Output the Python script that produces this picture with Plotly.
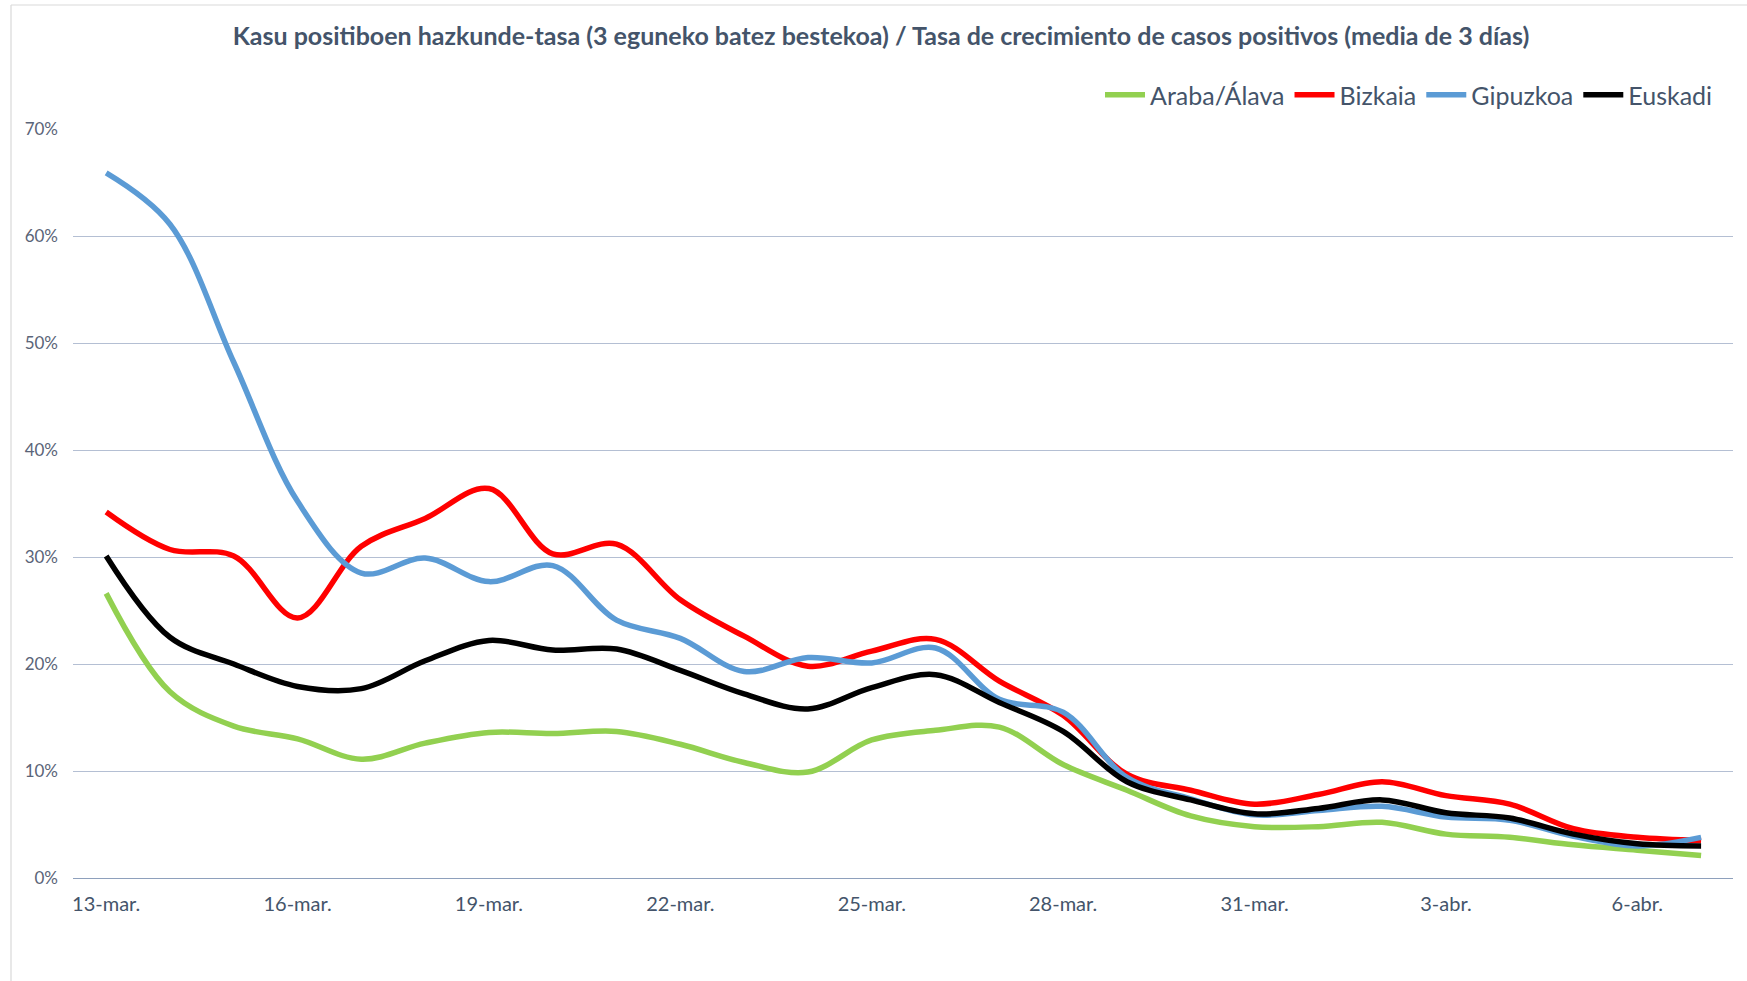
import plotly.graph_objects as go

dates = ["13-mar.", "14-mar.", "15-mar.", "16-mar.", "17-mar.", "18-mar.", "19-mar.",
         "20-mar.", "21-mar.", "22-mar.", "23-mar.", "24-mar.", "25-mar.", "26-mar.",
         "27-mar.", "28-mar.", "29-mar.", "30-mar.", "31-mar.", "1-abr.", "2-abr.",
         "3-abr.", "4-abr.", "5-abr.", "6-abr.", "7-abr."]

araba = [0.266, 0.174, 0.142, 0.130, 0.111, 0.126, 0.136, 0.135, 0.137, 0.125,
         0.108, 0.099, 0.129, 0.138, 0.141, 0.106, 0.082, 0.058, 0.048, 0.048,
         0.052, 0.041, 0.038, 0.031, 0.026, 0.021]
bizkaia = [0.342, 0.307, 0.301, 0.243, 0.310, 0.336, 0.364, 0.303, 0.312, 0.260,
           0.226, 0.198, 0.212, 0.223, 0.184, 0.152, 0.097, 0.082, 0.069, 0.078,
           0.090, 0.077, 0.069, 0.046, 0.038, 0.035]
gipuzkoa = [0.659, 0.611, 0.482, 0.352, 0.285, 0.299, 0.277, 0.292, 0.241, 0.224,
            0.193, 0.206, 0.201, 0.215, 0.167, 0.155, 0.094, 0.074, 0.059, 0.063,
            0.067, 0.057, 0.054, 0.039, 0.030, 0.038]
euskadi = [0.301, 0.225, 0.200, 0.179, 0.177, 0.203, 0.222, 0.213, 0.214, 0.194,
           0.172, 0.158, 0.178, 0.190, 0.164, 0.137, 0.090, 0.073, 0.060, 0.065,
           0.073, 0.061, 0.056, 0.041, 0.032, 0.030]

series_names = ["Araba/Álava", "Bizkaia", "Gipuzkoa", "Euskadi"]
series_values = [araba, bizkaia, gipuzkoa, euskadi]
series_colors = ["#92D050", "#FF0000", "#5B9BD5", "#000000"]

tick_labels = dates[::3]
y_ticks = [0, 0.1, 0.2, 0.3, 0.4, 0.5, 0.6, 0.7]

title_text = ("Kasu positiboen hazkunde-tasa (3 eguneko batez bestekoa) / "
              "Tasa de crecimiento de casos positivos (media de 3 días)")

W, H = 1747, 981
L, R, T, B = 73, 14, 129, 103

fig = go.Figure()
for name, vals, col in zip(series_names, series_values, series_colors):
    fig.add_trace(go.Scatter(
        x=dates, y=vals, name=name, mode="lines",
        line=dict(color=col, width=5.5, shape="spline", smoothing=1.0),
    ))

pw = W - L - R
ph = H - T - B
def px2x(px):
    return (px - L) / pw
def py2y(py):
    return (H - B - py) / ph

fig.update_layout(
    width=W, height=H,
    margin=dict(l=L, r=R, t=T, b=B, autoexpand=False),
    paper_bgcolor="white", plot_bgcolor="white",
    font=dict(family="Lato, 'Open Sans', sans-serif", color="#44546A"),
    title=dict(
        text="<b>" + title_text + "</b>",
        x=881 / W, xref="container", xanchor="center",
        y=1 - 36 / H, yref="container", yanchor="middle",
        font=dict(size=25, color="#44546A", family="Lato, sans-serif"),
    ),
    showlegend=True,
    legend=dict(
        orientation="h",
        xref="container", yref="container",
        x=1718 / W, xanchor="right",
        y=1 - 95 / H, yanchor="middle",
        font=dict(size=25, color="#44546A"),
        bgcolor="rgba(0,0,0,0)",
        itemwidth=40,
        traceorder="normal",
    ),
    xaxis=dict(
        type="category",
        range=[-0.52, 25.5],
        tickmode="array", tickvals=tick_labels, ticktext=tick_labels,
        showgrid=False, zeroline=False, showline=False, ticks="",
        tickfont=dict(size=20, color="#44546A"),
        ticklabelstandoff=12,
    ),
    yaxis=dict(
        range=[0, 0.7],
        tickmode="array", tickvals=y_ticks, tickformat=".0%",
        showgrid=True, gridcolor="#B4BFD3", gridwidth=1.3,
        zeroline=True, zerolinecolor="#8EA0BC", zerolinewidth=1.3,
        showline=False, ticks="",
        tickfont=dict(size=17, color="#5A6478"),
        ticklabelstandoff=14,
    ),
)

# chart-area border (left and top edges visible in the reference)
fig.add_shape(type="line", xref="paper", yref="paper",
              x0=px2x(11), x1=px2x(11), y0=py2y(5), y1=py2y(H),
              line=dict(color="#D9D9D9", width=1.2))
fig.add_shape(type="line", xref="paper", yref="paper",
              x0=px2x(11), x1=px2x(W), y0=py2y(5), y1=py2y(5),
              line=dict(color="#D9D9D9", width=1.2))

fig.write_html("out.html",
               config={"displayModeBar": False},
               post_script="document.body.style.margin='0';document.body.style.overflow='hidden';")
